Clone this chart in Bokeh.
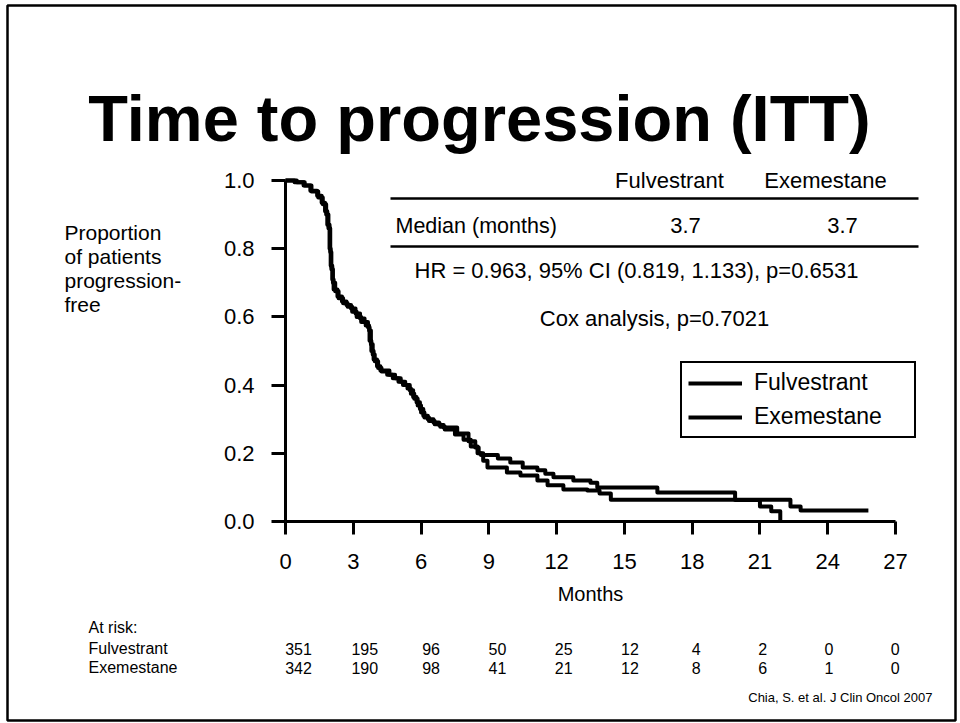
from bokeh.plotting import figure
from bokeh.models import Range1d, Label, Legend, LegendItem, FixedTicker, PrintfTickFormatter, BoxAnnotation, Arrow
from bokeh.embed import file_html
from bokeh.resources import INLINE

# ---------------- data ----------------
arms = ["Fulvestrant", "Exemestane"]
medians = [3.7, 3.7]
hr_text = "HR = 0.963, 95% CI (0.819, 1.133), p=0.6531"
cox_text = "Cox analysis, p=0.7021"

months_f = [0, 0.4, 0.8, 1.1, 1.4, 1.6, 1.75, 1.85, 1.95, 2.0, 2.07, 2.13, 2.3, 2.5, 2.7, 2.9,
            3.1, 3.3, 3.5, 3.65, 3.72, 3.8, 3.9, 4.05, 4.2, 4.6, 4.85, 5.1, 5.3, 5.5, 5.65, 5.8,
            5.95, 6.1, 6.3, 6.55, 6.8, 7.0, 7.6, 8.1, 8.4, 8.55, 8.65, 9.4, 9.95, 10.5, 11.15,
            11.5, 11.86, 12.74, 13.5, 13.8, 16.46, 19.9, 21.0, 21.5, 21.9]
surv_f = [1.0, 0.995, 0.985, 0.97, 0.955, 0.935, 0.91, 0.87, 0.8, 0.75, 0.71, 0.68, 0.66, 0.645,
          0.635, 0.625, 0.61, 0.595, 0.585, 0.57, 0.53, 0.5, 0.475, 0.455, 0.443, 0.43, 0.42,
          0.41, 0.40, 0.385, 0.365, 0.35, 0.33, 0.31, 0.30, 0.29, 0.283, 0.276, 0.258, 0.235,
          0.217, 0.2, 0.195, 0.185, 0.173, 0.158, 0.15, 0.14, 0.13, 0.12, 0.114, 0.1, 0.085,
          0.063, 0.044, 0.03, 0.0]

months_e = [0, 0.5, 0.85, 1.15, 1.45, 1.65, 1.8, 1.9, 1.98, 2.03, 2.1, 2.2, 2.35, 2.55, 2.75,
            2.95, 3.15, 3.35, 3.55, 3.7, 3.78, 3.86, 3.95, 4.1, 4.25, 4.5, 4.75, 5.0, 5.2, 5.4,
            5.55, 5.7, 5.85, 6.0, 6.15, 6.35, 6.6, 6.85, 7.05, 7.5, 7.88, 8.2, 8.5, 8.75, 8.94,
            9.8, 10.4, 11.15, 11.6, 12.3, 13.36, 13.9, 14.4, 22.35, 22.8, 25.8]
surv_e = [1.0, 0.995, 0.985, 0.968, 0.95, 0.93, 0.9, 0.86, 0.79, 0.74, 0.70, 0.675, 0.655,
          0.64, 0.63, 0.615, 0.60, 0.585, 0.575, 0.56, 0.52, 0.49, 0.47, 0.45, 0.44, 0.43, 0.42,
          0.41, 0.40, 0.39, 0.375, 0.36, 0.34, 0.32, 0.305, 0.295, 0.285, 0.278, 0.27, 0.255,
          0.24, 0.22, 0.2, 0.178, 0.158, 0.144, 0.135, 0.12, 0.106, 0.094, 0.091, 0.082, 0.064,
          0.044, 0.032, 0.032]

x_ticks = [0, 3, 6, 9, 12, 15, 18, 21, 24, 27]
y_ticks = [0.0, 0.2, 0.4, 0.6, 0.8, 1.0]
risk_f = [351, 195, 96, 50, 25, 12, 4, 2, 0, 0]
risk_e = [342, 190, 98, 41, 21, 12, 8, 6, 1, 0]

# ---------------- layout ----------------
W, H = 960, 723
AX_L, AX_R, AX_B = 285, 895, 521   # pixel positions of month 0, month 27, proportion 0
YPX = 341.0                        # pixels per unit of proportion
XS = 27.0 / (AX_R - AX_L)          # months per pixel
FONT = "Liberation Sans"

p = figure(width=W, height=H,
           x_range=Range1d(-AX_L * XS, (W - AX_L) * XS),
           y_range=Range1d(-(H - AX_B) / YPX, AX_B / YPX),
           min_border=0, toolbar_location=None, output_backend="svg", title=None)
p.outline_line_color = None
p.grid.visible = False
p.background_fill_color = "white"
p.border_fill_color = "white"

def dx(px):
    return (px - AX_L) * XS

def dy(py):
    return (AX_B - py) / YPX

# axes (drawn at the data origin inside the full-canvas frame)
xa = p.xaxis[0]
xa.fixed_location = 0
xa.ticker = FixedTicker(ticks=x_ticks)
xa.bounds = (0, 27)
xa.axis_line_width = 3
xa.major_tick_line_width = 3
xa.major_tick_in = 0
xa.major_tick_out = 13
xa.minor_tick_line_color = None
xa.major_label_standoff = 19
xa.major_label_text_font = FONT
xa.major_label_text_font_size = "22px"
xa.major_label_text_color = "black"
xa.axis_label = "Months"
xa.axis_label_text_font = FONT
xa.axis_label_text_font_size = "20px"
xa.axis_label_text_font_style = "normal"
xa.axis_label_text_color = "black"
xa.axis_label_standoff = 11

ya = p.yaxis[0]
ya.fixed_location = 0
ya.ticker = FixedTicker(ticks=y_ticks)
ya.formatter = PrintfTickFormatter(format="%.1f")
ya.bounds = (0, 1)
ya.axis_line_width = 3
ya.major_tick_line_width = 3
ya.major_tick_in = 0
ya.major_tick_out = 14
ya.minor_tick_line_color = None
ya.major_label_standoff = 17
ya.major_label_text_font = FONT
ya.major_label_text_font_size = "22px"
ya.major_label_text_color = "black"

# curves
r_f = p.step(months_f, surv_f, mode="after", line_width=4, line_color="black", line_join="round")
r_e = p.step(months_e, surv_e, mode="after", line_width=4, line_color="black", line_join="round")

legend = Legend(items=[LegendItem(label=arms[0], renderers=[r_f]),
                       LegendItem(label=arms[1], renderers=[r_e])],
                location=(680, H - 438), orientation="vertical")
legend.label_text_font = FONT
legend.label_text_font_size = "23px"
legend.label_text_color = "black"
legend.glyph_width = 54
legend.glyph_height = 26
legend.label_height = 26
legend.label_width = 154
legend.label_standoff = 12
legend.padding = 6
legend.spacing = 7
legend.margin = 0
legend.border_line_color = "black"
legend.border_line_alpha = 1
legend.border_line_width = 2
legend.background_fill_alpha = 1
p.add_layout(legend)

def lab(px, py, text, size, align="left", baseline="middle", style="normal"):
    p.add_layout(Label(x=dx(px), y=dy(py), text=text, text_align=align,
                       text_baseline=baseline, text_font=FONT,
                       text_font_size=f"{size}px", text_font_style=style,
                       text_color="black"))

def hline(x0, x1, py, w):
    p.add_layout(Arrow(x_start=dx(x0), y_start=dy(py), x_end=dx(x1), y_end=dy(py),
                       end=None, start=None, line_width=w, line_color="black"))

# slide border
p.add_layout(BoxAnnotation(left=dx(7), right=dx(955), top=dy(5), bottom=dy(720),
                           fill_alpha=0, line_color="black", line_width=2.5, line_alpha=1))

# title
lab(479, 118, "Time to progression (ITT)", 65, align="center", baseline="alphabetic", style="bold")

# y label block
for i, t in enumerate(["Proportion", "of patients", "progression-", "free"]):
    lab(64, 232 + 24 * i, t, 21)

# table
lab(669, 180, arms[0], 22, align="center")
lab(825, 180, arms[1], 22, align="center")
hline(390, 918, 198, 2.5)
lab(395, 225, "Median (months)", 21.5)
lab(685, 225, f"{medians[0]:.1f}", 22, align="center")
lab(842, 225, f"{medians[1]:.1f}", 22, align="center")
hline(390, 918, 246, 2.5)
lab(636, 270, hr_text, 22, align="center")
lab(654, 318, cox_text, 22, align="center")

# at-risk table
lab(88, 627, "At risk:", 16)
lab(88, 648, arms[0], 16)
lab(88, 667, arms[1], 16)
col0, colstep = 298, 66.3
for k in range(len(risk_f)):
    lab(col0 + k * colstep, 648, str(risk_f[k]), 16, align="center")
    lab(col0 + k * colstep, 667, str(risk_e[k]), 16, align="center")

lab(932, 697, "Chia, S. et al. J Clin Oncol 2007", 13, align="right")

open("out.html", "w").write(file_html(p, INLINE))
